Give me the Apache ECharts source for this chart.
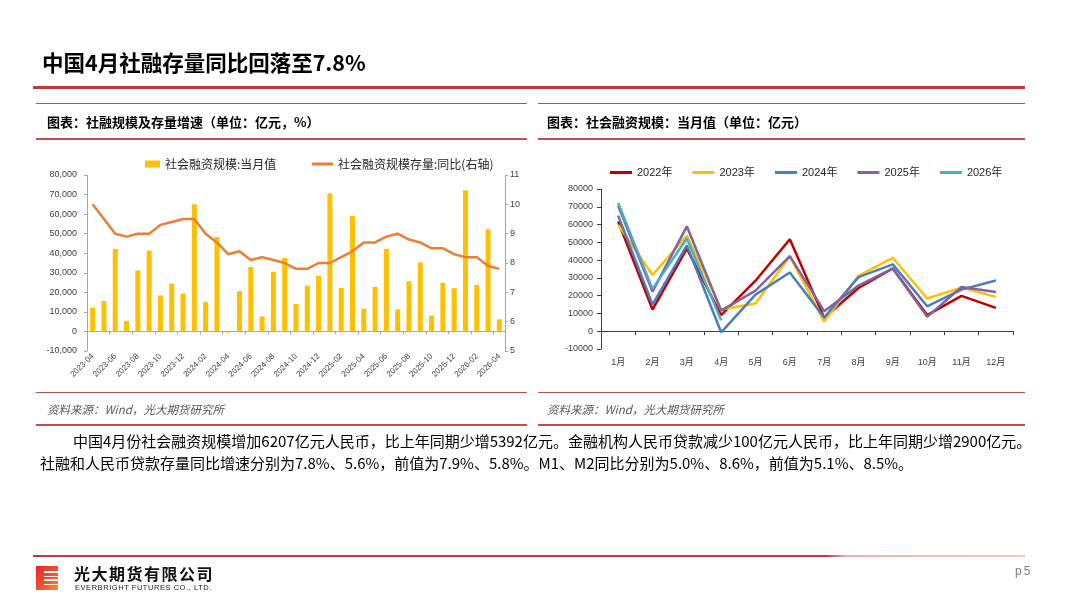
<!DOCTYPE html>
<html>
<head>
<meta charset="utf-8">
<script src="https://cdn.jsdelivr.net/npm/echarts@6/dist/echarts.min.js"></script>
<style>
  html,body{margin:0;padding:0;background:#fff;}
  body{width:1067px;height:600px;position:relative;overflow:hidden;font-family:"Noto Sans CJK SC",sans-serif;}
  #chart{position:absolute;left:0;top:0;width:1067px;height:600px;}
  .abs{position:absolute;white-space:nowrap;}
  .ln{position:absolute;background:#C0504D;}
  .title{left:42px;top:47px;font-size:21.5px;font-weight:bold;color:#000;line-height:30px;}
  .ptitle{font-size:13px;font-weight:bold;color:#000;line-height:18px;top:113px;}
  .src{font-size:11.5px;font-style:italic;color:#595959;line-height:16px;top:401px;}
  .para{font-size:15px;color:#000;line-height:22px;}
</style>
</head>
<body>
<div id="chart"></div>

<div class="abs title">中国4月社融存量同比回落至7.8%</div>
<div class="ln" style="left:33px;top:86px;width:992px;height:3px;background:#C5393C;"></div>

<div class="ln" style="left:36px;top:103px;width:491px;height:1px;"></div>
<div class="ln" style="left:538px;top:103px;width:487px;height:1px;"></div>
<div class="abs ptitle" style="left:47px;">图表：社融规模及存量增速（单位：亿元，%）</div>
<div class="abs ptitle" style="left:547px;">图表：社会融资规模：当月值（单位：亿元）</div>
<div class="ln" style="left:36px;top:138px;width:491px;height:2px;"></div>
<div class="ln" style="left:538px;top:138px;width:487px;height:2px;"></div>

<div class="ln" style="left:36px;top:392px;width:491px;height:1px;"></div>
<div class="ln" style="left:538px;top:392px;width:487px;height:1px;"></div>
<div class="abs src" style="left:47px;">资料来源：Wind，光大期货研究所</div>
<div class="abs src" style="left:547px;">资料来源：Wind，光大期货研究所</div>
<div class="ln" style="left:36px;top:424px;width:491px;height:2px;"></div>
<div class="ln" style="left:538px;top:424px;width:487px;height:2px;"></div>

<div class="abs para" style="left:73px;top:430px;">中国4月份社会融资规模增加6207亿元人民币，比上年同期少增5392亿元。金融机构人民币贷款减少100亿元人民币，比上年同期少增2900亿元。</div>
<div class="abs para" style="left:40px;top:452px;">社融和人民币贷款存量同比增速分别为7.8%、5.6%，前值为7.9%、5.8%。M1、M2同比分别为5.0%、8.6%，前值为5.1%、8.5%。</div>

<div class="ln" style="left:33px;top:555px;width:992px;height:2px;background:linear-gradient(to right,#C5393C 0%,#C5393C 80%,#E9B5B6 82%,#F0C8C8 100%);"></div>

<div class="abs" style="left:36px;top:566px;width:24px;height:24px;background:linear-gradient(135deg,#E8262A 0%,#EE5A2F 60%,#F39A3C 100%);"></div>
<div class="abs" style="left:44px;top:571px;width:16px;height:2px;background:#fff;"></div>
<div class="abs" style="left:44px;top:576px;width:16px;height:1px;background:#fde0c8;"></div>
<div class="abs" style="left:44px;top:579px;width:16px;height:2px;background:#fff;"></div>
<div class="abs" style="left:44px;top:584px;width:16px;height:1px;background:#fde0c8;"></div>
<div class="abs" style="left:58px;top:566px;width:3px;height:24px;background:#fff;"></div>

<div class="abs" style="left:74px;top:564px;font-size:16px;font-weight:bold;letter-spacing:1.5px;line-height:18px;color:#111;">光大期货有限公司</div>
<div class="abs" style="left:75px;top:583px;font-size:7.5px;font-family:'Liberation Sans',sans-serif;letter-spacing:0.55px;line-height:9px;color:#222;">EVERBRIGHT FUTURES CO., LTD.</div>
<div class="abs" style="left:1015px;top:564px;font-size:12px;color:#7F7F7F;letter-spacing:2px;font-family:'Liberation Sans',sans-serif;">p5</div>

<script>
// ---------- Data ----------
const monthLabels = [
  '2023-04','2023-05','2023-06','2023-07','2023-08','2023-09','2023-10','2023-11','2023-12',
  '2024-01','2024-02','2024-03','2024-04','2024-05','2024-06','2024-07','2024-08','2024-09','2024-10','2024-11','2024-12',
  '2025-01','2025-02','2025-03','2025-04','2025-05','2025-06','2025-07','2025-08','2025-09','2025-10','2025-11','2025-12',
  '2026-01','2026-02','2026-03','2026-04'
];
const tsfMonthly = [
  12200, 15600, 42200, 5400, 31200, 41300, 18400, 24500, 19300,
  65000, 15000, 48300, -600, 20600, 33000, 7700, 30400, 37600, 14000, 23400, 28500,
  70600, 22300, 59000, 11600, 22800, 42200, 11300, 25700, 35300, 8100, 24900, 22100,
  72200, 23800, 52200, 6200
];
const tsfStockYoY = [
  10.0, 9.5, 9.0, 8.9, 9.0, 9.0, 9.3, 9.4, 9.5,
  9.5, 9.0, 8.7, 8.3, 8.4, 8.1, 8.2, 8.1, 8.0, 7.8, 7.8, 8.0,
  8.0, 8.2, 8.4, 8.7, 8.7, 8.9, 9.0, 8.8, 8.7, 8.5, 8.5, 8.3,
  8.2, 8.2, 7.9, 7.8
];
const calMonths = ['1月','2月','3月','4月','5月','6月','7月','8月','9月','10月','11月','12月'];
const y2022 = [61700, 12200, 46500, 9100, 28400, 51700, 7600, 24300, 35300, 9100, 19900, 13100];
const y2023 = [59800, 31600, 53800, 12200, 15600, 42200, 5400, 31200, 41300, 18400, 24500, 19300];
const y2024 = [65000, 15000, 48300, -600, 20600, 33000, 7700, 30400, 37600, 14000, 23400, 28500];
const y2025 = [70600, 22300, 59000, 11600, 22800, 42200, 11300, 25700, 35300, 8100, 24900, 22100];
const y2026 = [72200, 23800, 52200, 6200];
const yearNames = ['2022年','2023年','2024年','2025年','2026年'];
const yearColors = ['#C00000','#FFC000','#4A7EBB','#8064A2','#4BACC6'];
const yearData = [y2022, y2023, y2024, y2025, y2026];

// ---------- Chart ----------
const FONT = "'Liberation Sans','Noto Sans CJK SC',sans-serif";
const axisGray = '#A6A6A6';
const labelGray = '#404040';
const chart = echarts.init(document.getElementById('chart'), null, {renderer:'canvas'});

const option = {
  animation: false,
  textStyle: {fontFamily: FONT},
  legend: [
    {left:145, top:158, padding:0, itemWidth:15, itemHeight:7, itemGap:10, icon:'rect', data:['社会融资规模:当月值'],
     textStyle:{fontSize:12, color:'#262626', fontFamily:"'Noto Sans CJK SC',sans-serif"}},
    {left:312, top:158, padding:0, itemWidth:21, itemHeight:3, icon:'rect', data:['社会融资规模存量:同比(右轴)'],
     textStyle:{fontSize:12, color:'#262626', fontFamily:"'Noto Sans CJK SC',sans-serif"}},
    {left:610, top:167, padding:0, itemWidth:22, itemHeight:3, itemGap:20, icon:'rect', data:yearNames,
     textStyle:{fontSize:11, color:'#262626', fontFamily:FONT}}
  ],
  grid: [
    {left:87, right:562, top:175, bottom:249},
    {left:601, right:54, top:189, bottom:251}
  ],
  xAxis: [
    {type:'category', gridIndex:0, data:monthLabels, boundaryGap:true,
     axisLine:{onZero:true, lineStyle:{color:axisGray}},
     axisTick:{show:true, interval:1, length:3, lineStyle:{color:axisGray}},
     axisLabel:{interval:1, rotate:45, fontSize:8, color:labelGray, margin:4, fontFamily:FONT}},
    {type:'category', gridIndex:1, data:calMonths, boundaryGap:true,
     axisLine:{onZero:true, lineStyle:{color:'#404040'}},
     axisTick:{show:true, length:4, lineStyle:{color:'#404040'}},
     axisLabel:{fontSize:9, color:labelGray, margin:9, fontFamily:FONT}}
  ],
  yAxis: [
    {type:'value', gridIndex:0, min:-10000, max:80000, interval:10000, position:'left',
     splitLine:{show:false},
     axisLine:{show:true, lineStyle:{color:axisGray}},
     axisTick:{show:true, length:3, lineStyle:{color:axisGray}},
     axisLabel:{fontSize:9, color:labelGray, margin:10,
       formatter: v => v.toLocaleString('en-US')}},
    {type:'value', gridIndex:0, min:5, max:11, interval:1, position:'right',
     splitLine:{show:false},
     axisLine:{show:true, lineStyle:{color:axisGray}},
     axisTick:{show:true, length:3, lineStyle:{color:axisGray}},
     axisLabel:{fontSize:9, color:labelGray, margin:5}},
    {type:'value', gridIndex:1, min:-10000, max:80000, interval:10000, position:'left',
     splitLine:{show:false},
     axisLine:{show:true, lineStyle:{color:'#404040'}},
     axisTick:{show:true, length:4, lineStyle:{color:'#404040'}},
     axisLabel:{fontSize:9, color:labelGray, margin:8, formatter: v => String(v)}}
  ],
  series: [
    {name:'社会融资规模:当月值', type:'bar', xAxisIndex:0, yAxisIndex:0,
     data:tsfMonthly, barWidth:5, itemStyle:{color:'#FFC000'}},
    {name:'社会融资规模存量:同比(右轴)', type:'line', xAxisIndex:0, yAxisIndex:1,
     data:tsfStockYoY, symbol:'none', lineStyle:{width:2.5, color:'#ED7D31'}, itemStyle:{color:'#ED7D31'}}
  ].concat(yearNames.map((n,i)=>({
     name:n, type:'line', xAxisIndex:1, yAxisIndex:2, data:yearData[i], symbol:'none',
     lineStyle:{width:2.5, color:yearColors[i]}, itemStyle:{color:yearColors[i]}
  })))
};
chart.setOption(option);
</script>
</body>
</html>
